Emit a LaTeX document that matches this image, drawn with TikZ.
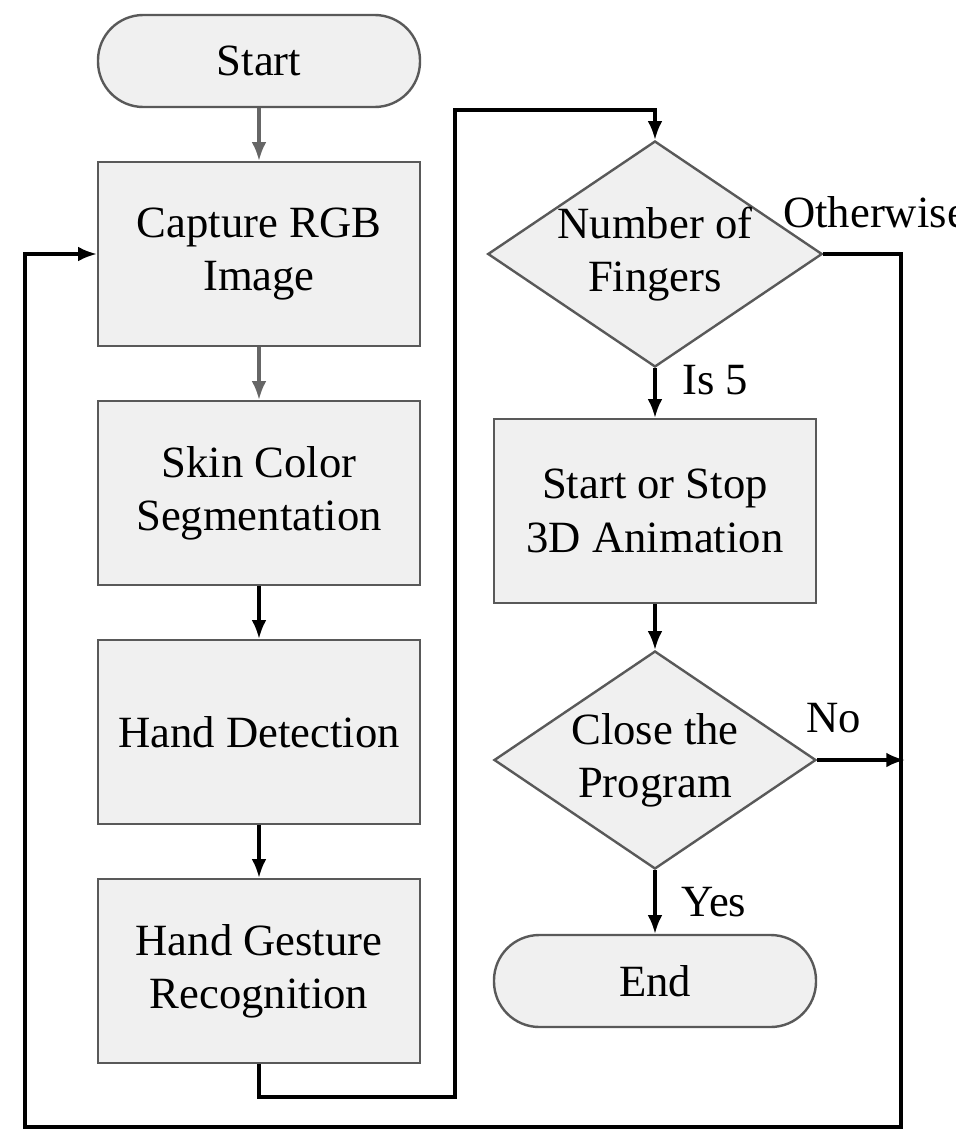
\documentclass[tikz,border=0pt]{standalone}
\usepackage{fontspec}
\setmainfont{Liberation Serif}
\usetikzlibrary{shapes.geometric,arrows.meta}
\begin{document}
\begin{tikzpicture}[x=0.75pt,y=-0.75pt,
  box/.style={draw=black!65,line width=1.8pt,fill=black!6,minimum width=241.5pt,minimum height=138pt,align=center,font=\fontsize{33.5}{40}\selectfont,inner sep=0pt},
  term/.style={box,rounded corners=34pt,minimum height=69pt},
  dia/.style={draw=black!65,line width=1.8pt,fill=black!6,diamond,aspect=1.48,minimum width=241.5pt,minimum height=163.5pt,inner sep=0pt,align=center,font=\fontsize{33.5}{40}\selectfont},
  ar/.style={line width=2.3pt,-{Latex[length=14pt,width=11pt]}},
  gar/.style={ar,draw=black!60},
  lab/.style={font=\fontsize{33.5}{40}\selectfont,inner sep=0pt}]
\useasboundingbox (0,0) rectangle (956,1129);
\node[term] (start) at (259,61) {Start};
\node[box] (cap) at (259,254) {Capture RGB\\Image};
\node[box] (skin) at (259,493) {Skin Color\\Segmentation};
\node[box] (hand) at (259,732) {Hand Detection};
\node[box] (gest) at (259,971) {Hand Gesture\\Recognition};
\node[dia] (num) at (655,254) {Number of\\Fingers};
\node[box] (anim) at (655,511) {Start or Stop\\3D Animation};
\node[dia] (close) at (655,760) {Close the\\Program};
\node[term] (end) at (655,981) {End};
\coordinate (a1) at (259,1097);
\coordinate (a2) at (455,1097);
\coordinate (a3) at (455,110);
\coordinate (a4) at (655,110);
\coordinate (b1) at (901,254);
\coordinate (b2) at (901,1127);
\coordinate (b3) at (25,1127);
\coordinate (b4) at (25,254);
\coordinate (nend) at (905,760);
\draw[gar] (start) -- (cap);
\draw[gar] (cap) -- (skin);
\draw[ar] (skin) -- (hand);
\draw[ar] (hand) -- (gest);
\draw[ar] (gest.south) -- (a1) -- (a2) -- (a3) -- (a4) -- (num.north);
\draw[ar] (num.east) -- (b1) -- (b2) -- (b3) -- (b4) -- (cap.west);
\draw[ar] (num) -- (anim);
\draw[ar] (anim) -- (close);
\draw[ar] (close) -- (end);
\draw[ar] (close.east) -- (nend);
\node[lab,anchor=west] (lo) at (783,212) {Otherwise};
\node[lab,anchor=west] (l5) at (682,380) {Is 5};
\node[lab,anchor=west] (lno) at (806,718) {No};
\node[lab,anchor=west] (lyes) at (681,902) {Yes};
\end{tikzpicture}
\end{document}
